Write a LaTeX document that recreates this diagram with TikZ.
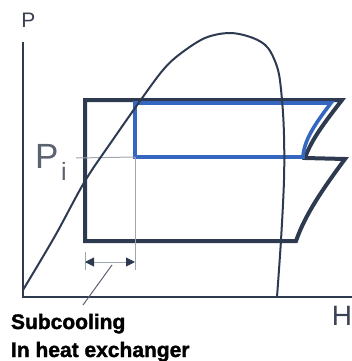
\documentclass[tikz,border=0pt]{standalone}
\usepackage{fontspec}
\setmainfont{Liberation Sans}
\newfontfamily\heavyfont[FakeBold=1.6]{Liberation Sans}
\usetikzlibrary{arrows.meta}
\definecolor{cycdark}{HTML}{2D3A50}
\definecolor{cycblue}{HTML}{3567C0}
\definecolor{thingray}{HTML}{A0A6AD}
\definecolor{txtdark}{HTML}{3B4253}
\definecolor{txtgray}{HTML}{5B6270}
\tikzset{
  axisline/.style={draw=cycdark, line width=2.6pt},
  outercycle/.style={draw=cycdark, line width=4pt, line join=miter},
  innercycle/.style={draw=cycblue, line width=3.6pt, line join=miter},
  domeline/.style={draw=cycdark, line width=2pt},
  guide/.style={draw=thingray, line width=1pt},
  dimline/.style={draw=thingray, line width=1pt, {Triangle[length=9pt,width=9pt,fill=cycdark,color=cycdark]}-{Triangle[length=9pt,width=9pt,fill=cycdark,color=cycdark]}},
  lbl/.style={inner sep=0pt, outer sep=0pt},
}
\begin{document}
\begin{tikzpicture}[x=1pt,y=-1pt]
\useasboundingbox (0,0) rectangle (352,361);
% axes
\coordinate (ytop) at (23,42);
\coordinate (orig) at (23,297);
\coordinate (xend) at (352,297);
\draw[axisline] (ytop) -- (orig) -- (xend);
% outer (dark) cycle
\coordinate (o1) at (85,100);
\coordinate (o2) at (342,100);
\coordinate (o3) at (305,158);
\coordinate (o4) at (345,159);
\coordinate (o5) at (296,241);
\coordinate (o6) at (85,241);
\draw[outercycle] (o1) -- (o2) .. controls (325,122) and (311,140) .. (o3) -- (o4)
  .. controls (322,190) and (305,215) .. (o5) -- (o6) -- cycle;
% inner (blue) cycle
\coordinate (b1) at (135,103);
\coordinate (b2) at (331,103);
\coordinate (b3) at (303,157);
\coordinate (b4) at (135,157);
\draw[innercycle] (b1) -- (b2) .. controls (315,124) and (304,140) .. (b3) -- (b4) -- cycle;
% guides
\coordinate (pil) at (76,158);
\coordinate (gbot) at (135,270);
\coordinate (tkt) at (85,252);
\coordinate (tkb) at (85,270);
\draw[guide] (pil) -- (b4);
\draw[guide] (b4) -- (gbot);
\draw[guide] (tkt) -- (tkb);
\coordinate (dl) at (85,262);
\coordinate (dr) at (135,262);
\draw[dimline] (dl) -- (dr);
\coordinate (ld1) at (112,265);
\coordinate (ld2) at (83,305);
\draw[guide, draw=txtgray] (ld1) -- (ld2);
% saturation dome
\draw[domeline] plot[smooth, tension=0.55] coordinates {(23,290) (55,236) (85,181) (112,141) (140,101) (163,70) (180,54) (205,38) (230,33) (253,38) (268,48) (278,70) (282,100) (284,135) (284,180) (281,240) (277,297)};
% labels
\node[lbl, anchor=base, text=txtdark, font=\fontsize{21}{21}\selectfont] (plab) at (28.5,28) {P};
\node[lbl, anchor=base west, text=txtgray, font=\fontsize{35}{35}\selectfont] (pilab) at (35,168) {P};
\node[lbl, anchor=base west, text=txtgray, font=\fontsize{25}{25}\selectfont] (pisub) at (61,180) {i};
\node[lbl, anchor=base east, text=txtdark, font=\fontsize{28}{28}\selectfont] (hlab) at (352,325) {H};
\node[lbl, anchor=base west, text=black, font=\fontsize{21}{21}\heavyfont\bfseries] (sub1) at (11,329) {Subcooling};
\node[lbl, anchor=base west, text=black, font=\fontsize{21}{21}\heavyfont\bfseries] (sub2) at (11,357) {In heat exchanger};
\end{tikzpicture}
\end{document}
